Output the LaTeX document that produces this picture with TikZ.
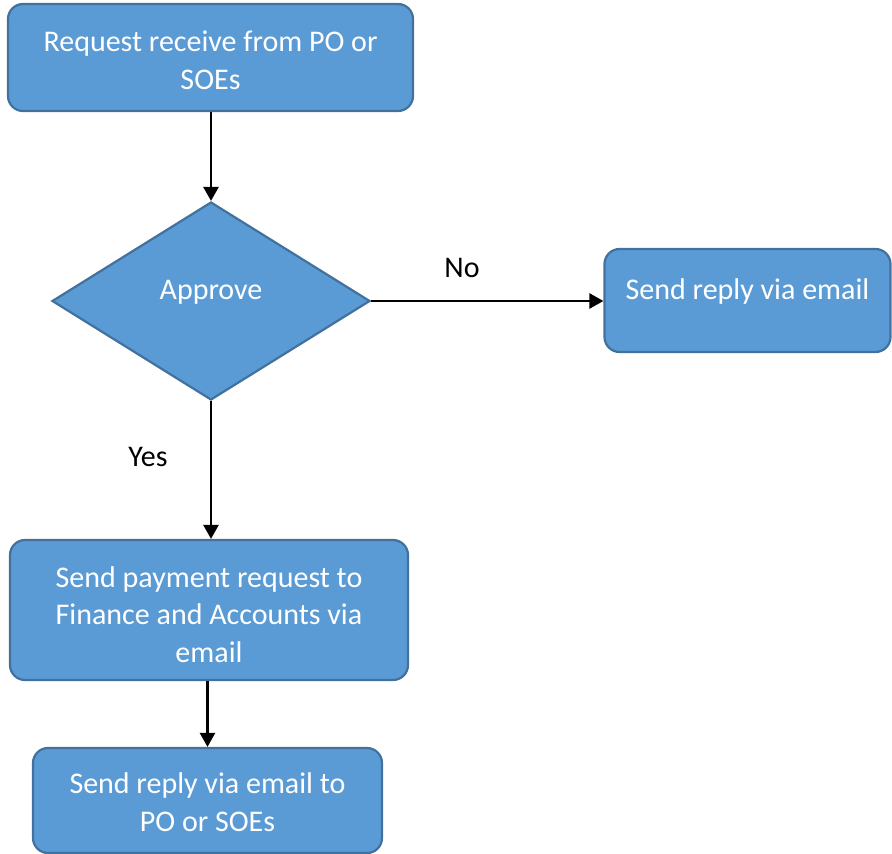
\documentclass[tikz,border=0pt]{standalone}
\usepackage{fontspec}
\setmainfont{Carlito}
\usetikzlibrary{positioning, arrows.meta, shapes.geometric}

\definecolor{boxfill}{HTML}{5B9BD5}
\definecolor{boxline}{HTML}{41719C}

% box text, shifted up or down, with no height of its own
\newcommand{\boxtext}[2][0pt]{\raisebox{#1}[0pt][0pt]{\begin{tabular}{@{}c@{}}#2\end{tabular}}}

\tikzset{
  flowbox/.style={draw=boxline, fill=boxfill, line width=2.2pt, rounded corners=15pt,
    text=white, inner sep=0pt, font=\fontsize{30}{37.5}\selectfont},
  decision/.style={draw=boxline, fill=boxfill, line width=2.2pt, diamond, inner sep=0pt,
    text=white, font=\fontsize{30}{37.5}\selectfont},
  flowarrow/.style={line width=2.5pt, -{Triangle[length=14pt, width=15pt]}},
  edgelabel/.style={font=\fontsize{30}{37.5}\selectfont, text=black}
}

\begin{document}
\begin{tikzpicture}[x=1pt, y=-1pt]
    % canvas
    \useasboundingbox (0, 0) rectangle (892, 854);

    % request
    \node[flowbox, minimum width=405pt, minimum height=107pt] (request) at (210.5, 57.5)
      {\boxtext[-11.5pt]{Request receive from PO or\\SOEs}};

    % decision
    \node[decision, minimum width=318pt, minimum height=198pt] (approve) at (211, 301)
      {\boxtext[2.5pt]{Approve}};

    % reply (no)
    \node[flowbox, minimum width=286pt, minimum height=103pt] (reply) at (747.5, 300.5)
      {\boxtext[2pt]{Send reply via email}};

    % payment request (yes)
    \node[flowbox, minimum width=398pt, minimum height=140pt] (payment) at (209, 610)
      {\boxtext[-13.5pt]{Send payment request to\\Finance and Accounts via\\email}};

    % final reply
    \node[flowbox, minimum width=349pt, minimum height=105pt] (final) at (207.5, 800.5)
      {\boxtext[-10.5pt]{Send reply via email to\\PO or SOEs}};

    % arrows
    \draw[flowarrow] (request.south -| approve.north) -- (approve.north);
    \draw[flowarrow] (approve.east) -- (reply.west |- approve.east);
    \draw[flowarrow] (approve.south) -- (approve.south |- payment.north);
    \draw[flowarrow] (payment.south -| final.north) -- (final.north);

    % labels
    \node[edgelabel] (nolabel) at (462, 268) {No};
    \node[edgelabel] (yeslabel) at (148, 457) {Yes};
  \end{tikzpicture}
\end{document}
